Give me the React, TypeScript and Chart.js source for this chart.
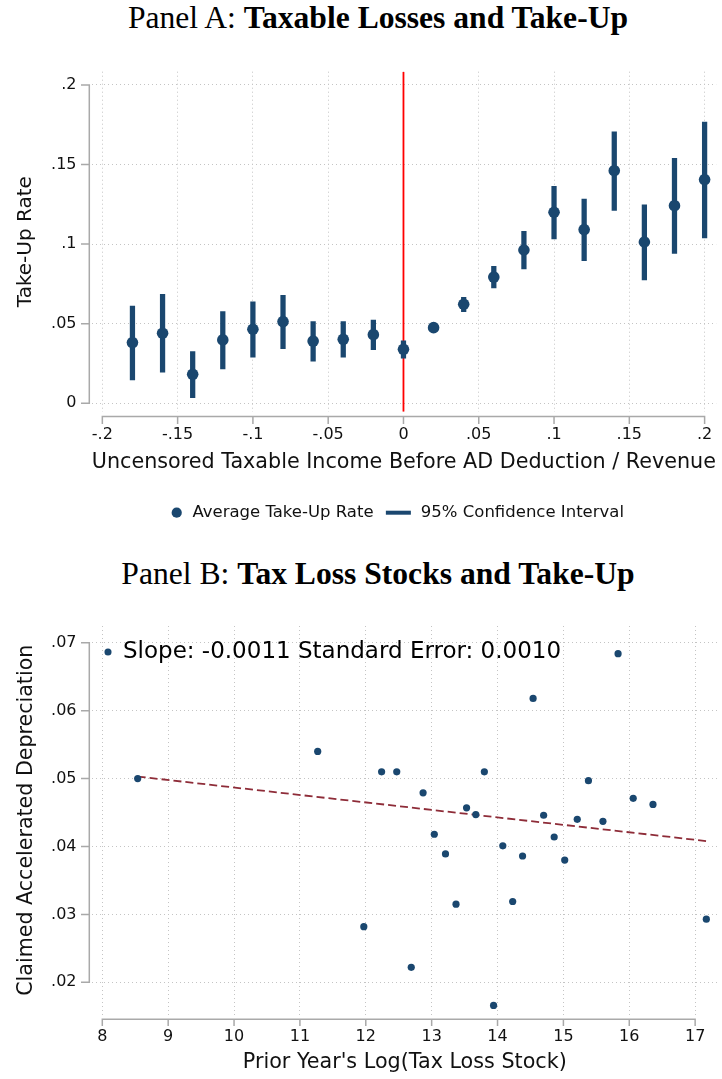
import React, { useEffect, useRef } from "react";
import { Chart, registerables } from "chart.js";

Chart.register(...registerables);

const NAVY = "#1a476f";
const FIT_RED = "#8e2c38";
const AXIS_GRAY = "#a9a9a9";
const GRID_GRAY = "#c4c4c4";
const SANS = "DejaVu Sans";

// ---------- Panel A: Taxable Losses and Take-Up ----------
const binsA = [-0.18, -0.16, -0.14, -0.12, -0.1, -0.08, -0.06, -0.04, -0.02, 0, 0.02, 0.04, 0.06, 0.08, 0.1, 0.12, 0.14, 0.16, 0.18, 0.2];
const rateA = [0.0381, 0.044, 0.0182, 0.0398, 0.0465, 0.0513, 0.0391, 0.0402, 0.0431, 0.0339, 0.0475, 0.0622, 0.0793, 0.0963, 0.12, 0.1091, 0.1461, 0.1013, 0.1241, 0.1405];
const ciLowA = [0.0146, 0.0195, 0.0035, 0.0216, 0.0289, 0.0343, 0.0264, 0.0289, 0.0337, 0.0283, 0.0458, 0.0576, 0.0724, 0.0844, 0.1032, 0.0896, 0.1212, 0.0775, 0.0942, 0.1038];
const ciHighA = [0.0611, 0.0685, 0.0324, 0.0576, 0.0638, 0.0678, 0.0513, 0.0513, 0.0523, 0.0393, 0.0492, 0.0666, 0.0861, 0.108, 0.1363, 0.1283, 0.1706, 0.1246, 0.1539, 0.1767];
const xTicksA = [-0.2, -0.15, -0.1, -0.05, 0, 0.05, 0.1, 0.15, 0.2];
const xTickLabelsA = ["-.2", "-.15", "-.1", "-.05", "0", ".05", ".1", ".15", ".2"];
const yTicksA = [0, 0.05, 0.1, 0.15, 0.2];
const yTickLabelsA = ["0", ".05", ".1", ".15", ".2"];
const xRangeA = [-0.2072, 0.2077];
const yRangeA = [-0.0053, 0.2083];
const cutoffA = 0;
const legendLabelsA = ["Average Take-Up Rate", "95% Confidence Interval"];

// ---------- Panel B: Tax Loss Stocks and Take-Up ----------
const lossStockB = [8.537, 11.27, 11.97, 12.24, 12.47, 12.69, 12.87, 13.04, 13.21, 13.37, 13.53, 13.67, 13.8, 13.94, 14.08, 14.23, 14.38, 14.54, 14.7, 14.86, 15.02, 15.21, 15.38, 15.6, 15.83, 16.06, 16.36, 17.17];
const claimedB = [0.05, 0.054, 0.0282, 0.051, 0.051, 0.0222, 0.0479, 0.0418, 0.0389, 0.0315, 0.0457, 0.0447, 0.051, 0.0166, 0.0401, 0.0319, 0.0386, 0.0618, 0.0446, 0.0414, 0.038, 0.044, 0.0497, 0.0437, 0.0684, 0.0471, 0.0462, 0.0293];
const fitXB = [8.537, 17.17];
const fitYB = [0.0503, 0.0408];
const xTicksB = [8, 9, 10, 11, 12, 13, 14, 15, 16, 17];
const xTickLabelsB = ["8", "9", "10", "11", "12", "13", "14", "15", "16", "17"];
const yTicksB = [0.02, 0.03, 0.04, 0.05, 0.06, 0.07];
const yTickLabelsB = [".02", ".03", ".04", ".05", ".06", ".07"];
const xRangeB = [7.836, 17.347];
const yRangeB = [0.01526, 0.07247];
const legendLabelB = "Slope: -0.0011 Standard Error: 0.0010";

function stataAxes(xTicks: number[], yTicks: number[], xTickLen: number, yTickLen: number) {
  return {
    id: "stataAxes",
    afterDraw(chart: any) {
      const { ctx, chartArea } = chart;
      const xs = chart.scales.x;
      const ys = chart.scales.y;
      ctx.save();
      ctx.strokeStyle = AXIS_GRAY;
      ctx.lineWidth = 1.5;
      const ax = chartArea.left - 2.2;
      const yTop = ys.getPixelForValue(yTicks[yTicks.length - 1]);
      const yBot = ys.getPixelForValue(yTicks[0]);
      ctx.beginPath();
      ctx.moveTo(ax, yTop - 0.75);
      ctx.lineTo(ax, yBot + 0.75);
      yTicks.forEach((v) => {
        const p = ys.getPixelForValue(v);
        ctx.moveTo(ax - yTickLen, p);
        ctx.lineTo(ax, p);
      });
      const ay = chartArea.bottom + 4.8;
      const xL = xs.getPixelForValue(xTicks[0]);
      const xR = xs.getPixelForValue(xTicks[xTicks.length - 1]);
      ctx.moveTo(xL - 0.75, ay);
      ctx.lineTo(xR + 0.75, ay);
      xTicks.forEach((v) => {
        const p = xs.getPixelForValue(v);
        ctx.moveTo(p, ay);
        ctx.lineTo(p, ay + xTickLen);
      });
      ctx.stroke();
      ctx.restore();
    },
  };
}

// Stata-style legend row under panel A (marker + label pairs, centred under the plot region)
const legendRowA = {
  id: "legendRowA",
  afterDraw(chart: any) {
    const { ctx, chartArea } = chart;
    const cy = chartArea.bottom + 101;
    const cx = (chartArea.left + chartArea.right) / 2 - 6;
    ctx.save();
    ctx.font = `16.5px "${SANS}"`;
    ctx.textBaseline = "middle";
    ctx.textAlign = "left";
    const w1 = ctx.measureText(legendLabelsA[0]).width;
    const w2 = ctx.measureText(legendLabelsA[1]).width;
    const total = 10 + 10.7 + w1 + 12.3 + 25 + 10 + w2;
    let x = cx - total / 2;
    ctx.fillStyle = NAVY;
    ctx.beginPath();
    ctx.arc(x + 5, cy, 5.1, 0, Math.PI * 2);
    ctx.fill();
    x += 10 + 10.7;
    ctx.fillStyle = "#111";
    ctx.fillText(legendLabelsA[0], x, cy);
    x += w1 + 12.3;
    ctx.fillStyle = NAVY;
    ctx.fillRect(x, cy - 2, 25, 4);
    x += 25 + 10;
    ctx.fillStyle = "#111";
    ctx.fillText(legendLabelsA[1], x, cy);
    ctx.restore();
  },
};

// place the legend box inside the plot area (top-left) after layout
const legendPlace = (dx: number, dy: number) => ({
  id: "legendPlace",
  afterLayout(chart: any) {
    const lg = chart.legend;
    if (!lg) return;
    const ca = chart.chartArea;
    const h = lg.height;
    lg.left = ca.left + dx;
    lg.right = ca.right + dx;
    lg.top = ca.top + dy;
    lg.bottom = lg.top + h;
  },
});

function gridOpts() {
  return { color: GRID_GRAY, lineWidth: 1, drawTicks: false, offset: false } as any;
}

const noPadX = (h: number) => (s: any) => {
  s.height = h;
  s.paddingLeft = 0;
  s.paddingRight = 0;
};
const noPadY = (w: number) => (s: any) => {
  s.width = w;
  s.paddingTop = 0;
  s.paddingBottom = 0;
};

function PanelA() {
  const ref = useRef<HTMLCanvasElement>(null);
  useEffect(() => {
    const chart = new Chart(ref.current!, {
      type: "scatter",
      data: {
        datasets: [
          {
            type: "scatter",
            label: legendLabelsA[0],
            data: binsA.map((x, i) => ({ x, y: rateA[i] })),
            pointRadius: 5.8,
            pointBackgroundColor: NAVY,
            pointBorderWidth: 0,
            order: 0,
          } as any,
          {
            type: "bar",
            label: legendLabelsA[1],
            data: binsA.map((x, i) => ({ x, y: [ciLowA[i], ciHighA[i]] })),
            backgroundColor: NAVY,
            borderWidth: 0,
            barThickness: 4.6,
            order: 1,
          } as any,
          {
            type: "line",
            label: "cutoff",
            data: [
              { x: cutoffA, y: yRangeA[0] },
              { x: cutoffA, y: yRangeA[1] },
            ],
            borderColor: "#ff0000",
            borderWidth: 1.8,
            pointRadius: 0,
            order: 2,
          } as any,
        ],
      },
      options: {
        responsive: false,
        animation: false,
        events: [],
        layout: { padding: { left: 0, right: 3.7, top: 16.7, bottom: 46.5 } },
        scales: {
          x: {
            type: "linear",
            min: xRangeA[0],
            max: xRangeA[1],
            offset: false,
            afterBuildTicks: (s: any) => {
              s.ticks = xTicksA.map((value) => ({ value }));
            },
            afterFit: noPadX(82.8),
            ticks: {
              autoSkip: false,
              maxRotation: 0,
              minRotation: 0,
              padding: 14,
              color: "#111",
              font: { family: SANS, size: 16 },
              callback: (_v: any, i: number) => xTickLabelsA[i],
            },
            grid: gridOpts(),
            border: { display: false, dash: [1, 3] },
            title: {
              display: true,
              text: "Uncensored Taxable Income Before AD Deduction / Revenue",
              color: "#111",
              font: { family: SANS, size: 20.7 },
              padding: { top: 0, bottom: 19 },
            },
          } as any,
          y: {
            type: "linear",
            min: yRangeA[0],
            max: yRangeA[1],
            afterBuildTicks: (s: any) => {
              s.ticks = yTicksA.map((value) => ({ value }));
            },
            afterFit: noPadY(91.5),
            ticks: {
              autoSkip: false,
              padding: 15,
              color: "#111",
              font: { family: SANS, size: 16 },
              callback: (_v: any, i: number) => yTickLabelsA[i],
            },
            grid: gridOpts(),
            border: { display: false, dash: [1, 3] },
            title: {
              display: true,
              text: "Take-Up Rate",
              color: "#111",
              font: { family: SANS, size: 20 },
              padding: { top: 13.5, bottom: 0 },
            },
          } as any,
        },
        plugins: {
          tooltip: { enabled: false },
          legend: { display: false },
        },
      } as any,
      plugins: [stataAxes(xTicksA, yTicksA, 7.5, 8.3), legendRowA],
    });
    return () => chart.destroy();
  }, []);
  return <canvas ref={ref} width={722} height={486} style={{ position: "absolute", left: 0, top: 55, display: "block" }} />;
}

function PanelB() {
  const ref = useRef<HTMLCanvasElement>(null);
  useEffect(() => {
    const chart = new Chart(ref.current!, {
      type: "scatter",
      data: {
        datasets: [
          {
            type: "scatter",
            label: legendLabelB,
            data: lossStockB.map((x, i) => ({ x, y: claimedB[i] })),
            pointRadius: 3.6,
            pointBackgroundColor: NAVY,
            pointBorderWidth: 0,
            order: 0,
          } as any,
          {
            type: "line",
            label: "fit",
            data: fitXB.map((x, i) => ({ x, y: fitYB[i] })),
            borderColor: FIT_RED,
            borderWidth: 1.8,
            borderDash: [8, 4],
            pointRadius: 0,
            order: 1,
          } as any,
        ],
      },
      options: {
        responsive: false,
        animation: false,
        events: [],
        layout: { padding: { left: 0, right: 3.7, top: 26, bottom: 0 } },
        scales: {
          x: {
            type: "linear",
            min: xRangeB[0],
            max: xRangeB[1],
            afterBuildTicks: (s: any) => {
              s.ticks = xTicksB.map((value) => ({ value }));
            },
            afterFit: noPadX(64.5),
            ticks: {
              autoSkip: false,
              maxRotation: 0,
              minRotation: 0,
              padding: 12.7,
              color: "#111",
              font: { family: SANS, size: 16 },
              callback: (_v: any, i: number) => xTickLabelsB[i],
            },
            grid: gridOpts(),
            border: { display: false, dash: [1, 3] },
            title: {
              display: true,
              text: "Prior Year's Log(Tax Loss Stock)",
              color: "#111",
              font: { family: SANS, size: 20.7 },
              padding: { top: 0, bottom: 3.6 },
            },
          } as any,
          y: {
            type: "linear",
            min: yRangeB[0],
            max: yRangeB[1],
            afterBuildTicks: (s: any) => {
              s.ticks = yTicksB.map((value) => ({ value }));
            },
            afterFit: noPadY(91.5),
            ticks: {
              autoSkip: false,
              padding: 15,
              color: "#111",
              font: { family: SANS, size: 16 },
              callback: (_v: any, i: number) => yTickLabelsB[i],
            },
            grid: gridOpts(),
            border: { display: false, dash: [1, 3] },
            title: {
              display: true,
              text: "Claimed Accelerated Depreciation",
              color: "#111",
              font: { family: SANS, size: 20.6 },
              padding: { top: 14, bottom: 0 },
            },
          } as any,
        },
        plugins: {
          tooltip: { enabled: false },
          legend: {
            display: true,
            position: "chartArea",
            align: "start",
            labels: {
              usePointStyle: true,
              boxWidth: 7,
              boxHeight: 5,
              padding: 13,
              color: "#111",
              font: { family: SANS, size: 23 },
              generateLabels: () => [
                { text: legendLabelB, pointStyle: "circle", fillStyle: NAVY, strokeStyle: NAVY, lineWidth: 0, hidden: false, datasetIndex: 0 },
              ] as any,
            },
          },
        },
      } as any,
      plugins: [stataAxes(xTicksB, yTicksB, 6.7, 8.3), legendPlace(0, 1.5)],
    });
    return () => chart.destroy();
  }, []);
  return <canvas ref={ref} width={722} height={479} style={{ position: "absolute", left: 0, top: 600, display: "block" }} />;
}

const titleStyle: React.CSSProperties = {
  position: "absolute",
  left: 34,
  width: 688,
  textAlign: "center",
  fontFamily: "'Liberation Serif', serif",
  fontSize: 31.6,
  lineHeight: "31.6px",
  color: "#000",
  whiteSpace: "nowrap",
};

export default function App() {
  return (
    <div style={{ position: "absolute", left: 0, top: 0, width: 722, height: 1079, background: "#fff" }}>
      <div style={{ ...titleStyle, top: 2 }}>
        <span>Panel A: </span>
        <span style={{ fontWeight: "bold" }}>Taxable Losses and Take-Up</span>
      </div>
      <PanelA />
      <div style={{ ...titleStyle, top: 557.5 }}>
        <span>Panel B: </span>
        <span style={{ fontWeight: "bold" }}>Tax Loss Stocks and Take-Up</span>
      </div>
      <PanelB />
    </div>
  );
}
